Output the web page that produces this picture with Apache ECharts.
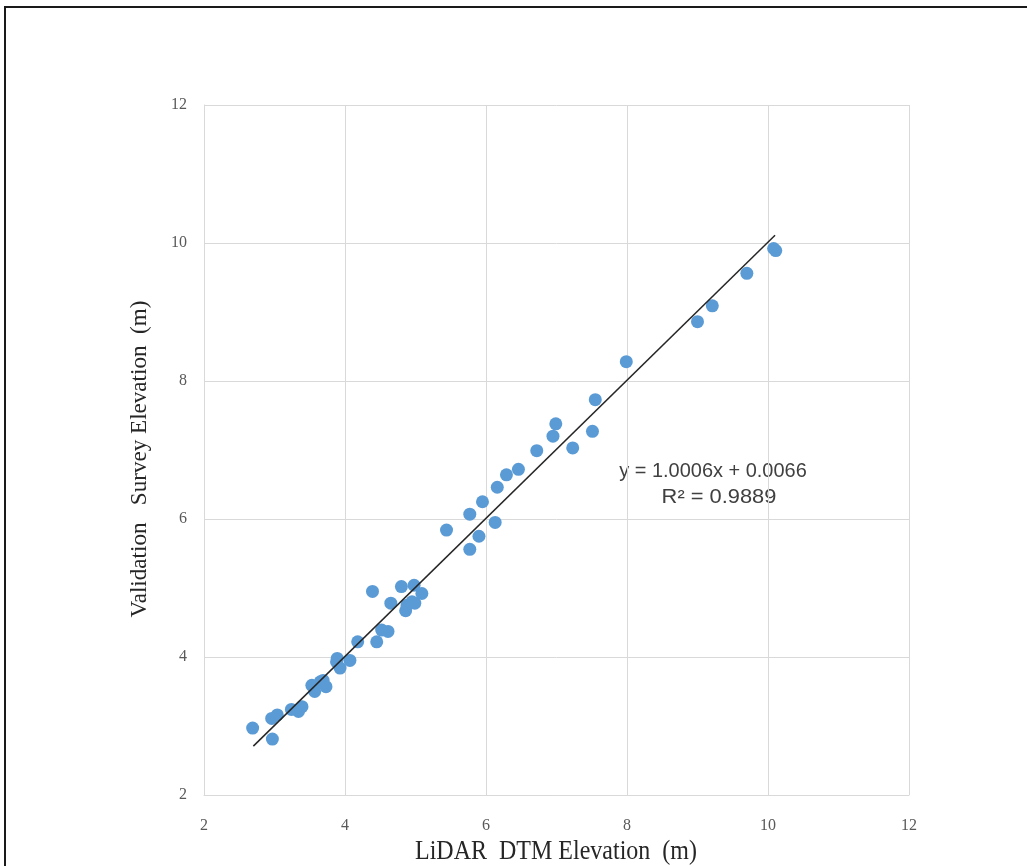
<!DOCTYPE html>
<html>
<head>
<meta charset="utf-8">
<script src="https://cdn.jsdelivr.net/npm/echarts@6/dist/echarts.min.js"></script>
<style>
html,body{margin:0;padding:0;background:#fff;overflow:hidden;}
#c{width:1027px;height:866px;}
</style>
</head>
<body>
<div id="c"></div>
<script>
const lidarX = [2.69,2.97,2.96,3.04,3.24,3.34,3.39,3.53,3.57,3.65,3.73,3.69,3.89,3.93,3.88,4.07,4.18,4.45,4.52,4.61,4.39,4.65,4.80,4.86,4.88,4.95,4.99,4.98,5.09,5.44,5.77,5.90,6.13,5.77,5.95,6.16,6.29,6.46,6.72,7.23,6.95,6.99,7.51,7.55,7.99,9.00,9.21,9.70,10.08,10.11];
const surveyY = [2.97,2.81,3.11,3.16,3.24,3.21,3.28,3.59,3.50,3.64,3.57,3.66,3.98,3.84,3.93,3.95,4.22,4.22,4.39,4.37,4.95,4.78,5.02,4.67,4.75,4.80,4.78,5.04,4.92,5.84,5.56,5.75,5.95,6.07,6.25,6.46,6.64,6.72,6.99,7.03,7.20,7.38,7.27,7.73,8.28,8.86,9.09,9.56,9.92,9.89];
const trendX = [2.70, 10.10];
const trendY = [2.708, 10.113];
const tickValues = [2,4,6,8,10,12];
const xTitle = 'LiDAR  DTM Elevation  (m)';
const yTitle = 'Validation   Survey Elevation  (m)';
const eqText = 'y = 1.0006x + 0.0066';
const r2Text = 'R² = 0.9889';

const chart = echarts.init(document.getElementById('c'), null, {renderer:'canvas'});
const pts = lidarX.map((x,i)=>[x, surveyY[i]]);
const trend = trendX.map((x,i)=>[x, trendY[i]]);
const tickFont = {fontFamily:'Liberation Serif, Times New Roman, serif', fontSize:16, color:'#595959'};
const serif = '"Liberation Serif", "Times New Roman", serif';
const sans = '"Liberation Sans", Arial, sans-serif';
chart.setOption({
  animation:false,
  backgroundColor:'#fff',
  grid:{left:204, right:118, top:105, bottom:71, containLabel:false, outerBoundsMode:'none'},
  xAxis:{type:'value', min:2, max:12, interval:2,
    axisLine:{show:true, lineStyle:{color:'#d9d9d9', width:1}},
    axisTick:{show:false},
    splitLine:{show:true, lineStyle:{color:'#d9d9d9', width:1}},
    axisLabel:Object.assign({margin:23, formatter:v=>tickValues.includes(v)?String(v):''}, tickFont)
  },
  yAxis:{type:'value', min:2, max:12, interval:2,
    axisLine:{show:true, lineStyle:{color:'#d9d9d9', width:1}},
    axisTick:{show:false},
    splitLine:{show:true, lineStyle:{color:'#d9d9d9', width:1}},
    axisLabel:Object.assign({margin:17, formatter:v=>tickValues.includes(v)?String(v):''}, tickFont)
  },
  series:[
    {type:'scatter', data:pts, symbolSize:13, itemStyle:{color:'#5B9BD5', opacity:1}, z:3},
    {type:'line', data:trend, showSymbol:false, symbol:'none', lineStyle:{color:'#262626', width:1.5}, z:4},
  ],
  graphic:[
    {type:'rect', shape:{x:5, y:7, width:1040, height:880}, style:{fill:'none', stroke:'#1a1a1a', lineWidth:2}, silent:true},
    {type:'text', x:713, y:472, scaleX:1.05, scaleY:1.05, style:{text:eqText, font:'19px '+sans, fill:'#404040', align:'center', verticalAlign:'middle'}},
    {type:'text', x:719, y:498, scaleX:1.15, scaleY:1.05, style:{text:r2Text, font:'19px '+sans, fill:'#404040', align:'center', verticalAlign:'middle'}},
    {type:'text', x:556, y:852, scaleY:1.15, style:{text:xTitle, font:'24px '+serif, fill:'#262626', align:'center', verticalAlign:'middle'}},
    {type:'text', x:140, y:459, rotation:Math.PI/2, scaleX:1.05, scaleY:1.05, style:{text:yTitle, font:'22px '+serif, fill:'#262626', align:'center', verticalAlign:'middle'}}
  ]
});
</script>
</body>
</html>
